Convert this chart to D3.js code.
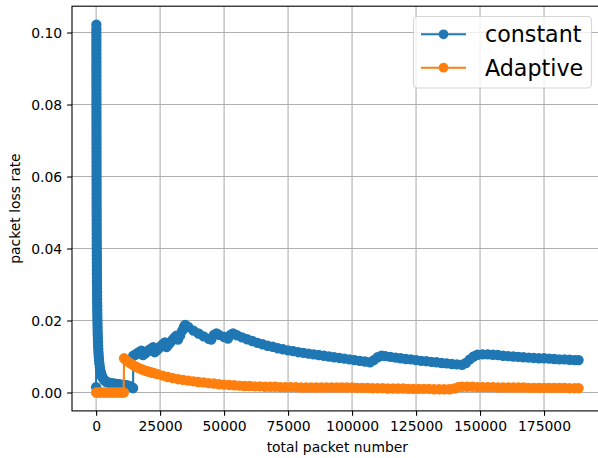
<!DOCTYPE html>
<html>
<head>
<meta charset="utf-8">
<script src="https://cdn.jsdelivr.net/npm/d3@7"></script>
<style>
  body { margin: 0; background: #fff; }
  text { font-family: "DejaVu Sans", sans-serif; fill: #000; }
</style>
</head>
<body>
<div id="chart"></div>
<script>
// packet loss rate vs total packets

const seriesNames = ["constant", "Adaptive"];
const seriesColors = ["#1f77b4", "#ff7f0e"];

const xTicks = [0, 25000, 50000, 75000, 100000, 125000, 150000, 175000];
const yTicks = [0.00, 0.02, 0.04, 0.06, 0.08, 0.10];

// [total packets, loss rate]
const constantData = [
  [0, 0.0015],
  [100, 0.1022], [101, 0.101], [102, 0.100], [104, 0.099], [105, 0.098], [106, 0.097], [107, 0.096],
  [108, 0.095], [109, 0.094], [110, 0.093], [111, 0.092], [113, 0.091], [114, 0.090], [115, 0.089],
  [116, 0.088], [118, 0.087], [119, 0.086], [121, 0.085], [122, 0.084], [123, 0.083], [125, 0.082],
  [127, 0.081], [128, 0.080], [130, 0.079], [131, 0.078], [133, 0.077], [135, 0.076], [137, 0.075],
  [139, 0.074], [140, 0.073], [142, 0.072], [144, 0.071], [146, 0.070], [149, 0.069], [151, 0.068],
  [153, 0.067], [155, 0.066], [158, 0.065], [160, 0.064], [163, 0.063], [165, 0.062], [168, 0.061],
  [171, 0.060], [174, 0.059], [177, 0.058], [180, 0.057], [183, 0.056], [186, 0.055], [190, 0.054],
  [193, 0.053], [197, 0.052], [201, 0.051], [205, 0.050], [209, 0.049], [214, 0.048], [218, 0.047],
  [223, 0.046], [228, 0.045], [233, 0.044], [238, 0.043], [244, 0.042], [250, 0.041], [256, 0.040],
  [263, 0.039], [270, 0.038], [277, 0.037], [285, 0.036], [293, 0.035], [301, 0.034], [311, 0.033],
  [320, 0.032], [331, 0.031], [342, 0.030], [353, 0.029], [366, 0.028], [380, 0.027], [394, 0.026],
  [410, 0.025], [427, 0.024], [446, 0.023], [466, 0.022], [488, 0.021], [513, 0.020], [539, 0.019],
  [569, 0.018], [603, 0.017], [641, 0.016], [683, 0.015], [732, 0.014], [788, 0.013], [854, 0.012],
  [932, 0.011], [1025, 0.010], [1139, 0.009], [1281, 0.008], [1464, 0.007], [1708, 0.006],
  [1900, 0.0054], [2100, 0.0049], [2350, 0.0044], [2650, 0.0040], [3000, 0.0036], [3400, 0.0033],
  [3900, 0.0030], [4500, 0.0028], [5200, 0.0027], [6000, 0.0026], [7000, 0.0025], [8000, 0.0024],
  [9000, 0.0023], [10000, 0.0022], [11000, 0.0021], [12000, 0.0020], [13000, 0.0018], [14000, 0.0015],
  [14450, 0.0012],
  [14500, 0.0102], [15300, 0.0105], [16100, 0.0109], [16900, 0.0113], [17700, 0.0116], [18300, 0.0104],
  [19100, 0.0108], [19900, 0.0113], [20700, 0.0118], [21500, 0.0122], [22300, 0.0126], [22900, 0.0112],
  [23700, 0.0117], [24500, 0.0123], [25300, 0.0129], [26100, 0.0134], [26900, 0.0139], [27500, 0.0126],
  [28300, 0.0133], [29100, 0.0140], [29900, 0.0147], [30700, 0.0153], [31400, 0.0158], [32000, 0.0147],
  [32800, 0.0158], [33600, 0.0171], [34300, 0.0182], [34800, 0.0188],
  [36000, 0.0182], [38000, 0.0172], [40000, 0.0164], [42000, 0.0156], [44000, 0.0149], [45000, 0.0147],
  [46000, 0.0160], [47000, 0.0164], [48000, 0.0160], [50000, 0.0154], [51500, 0.0150], [52500, 0.0160],
  [53500, 0.0164], [55000, 0.0159], [57000, 0.0153], [59000, 0.0148], [61000, 0.0143], [63000, 0.0138],
  [65000, 0.0134], [67000, 0.0130], [69000, 0.0127], [71000, 0.0123], [73000, 0.0120], [75000, 0.0117],
  [77000, 0.0115], [79000, 0.0112], [81000, 0.0110], [83000, 0.0108], [85000, 0.0106], [87000, 0.0104],
  [89000, 0.0102], [91000, 0.0100], [93000, 0.0098], [95000, 0.0096], [97000, 0.0094], [99000, 0.0092],
  [101000, 0.0090], [103000, 0.0088], [105000, 0.0086], [107000, 0.0084], [108500, 0.0090],
  [110000, 0.0098], [111500, 0.0102], [113000, 0.0101], [115000, 0.0099], [117000, 0.0097],
  [119000, 0.0095], [121000, 0.0093], [123000, 0.0092], [125000, 0.0090], [127000, 0.0088],
  [129000, 0.0087], [131000, 0.0085], [133000, 0.0084], [135000, 0.0082], [137000, 0.0081],
  [139000, 0.0079], [141000, 0.0078], [143000, 0.0077], [144500, 0.0082], [146000, 0.0092],
  [147500, 0.0100], [149000, 0.0105], [151000, 0.0106], [153000, 0.0106], [155000, 0.0105],
  [157000, 0.0104], [159000, 0.0102], [161000, 0.0101], [163000, 0.0100], [165000, 0.0099],
  [167000, 0.0098], [169000, 0.0097], [171000, 0.0096], [173000, 0.0095], [175000, 0.0095],
  [177000, 0.0094], [179000, 0.0093], [181000, 0.0092], [183000, 0.0092], [185000, 0.0091],
  [187000, 0.0090], [188500, 0.0090]
];

const adaptiveData = [
  [0, 0], [1000, 0], [2000, 0], [3000, 0], [4000, 0], [5000, 0], [6000, 0], [7000, 0],
  [8000, 0], [9000, 0], [10000, 0], [10800, 0],
  [10900, 0.0095], [11500, 0.0091], [12000, 0.0088], [13000, 0.0083], [14000, 0.0078], [15000, 0.0074],
  [16000, 0.0070], [17000, 0.0067], [18000, 0.0064], [19000, 0.0061], [20000, 0.0059], [21000, 0.0057],
  [22000, 0.0055], [23000, 0.0053], [24000, 0.0051], [26000, 0.0047], [28000, 0.0043], [30000, 0.0040],
  [32000, 0.0037], [34000, 0.0035], [36000, 0.0033], [38000, 0.0031], [40000, 0.0029], [42000, 0.0028],
  [44000, 0.0026], [46000, 0.0025], [48000, 0.0023], [50000, 0.0022], [52000, 0.0021], [54000, 0.0020],
  [56000, 0.0019], [58000, 0.0018], [60000, 0.0018], [62000, 0.0017], [64000, 0.0017], [66000, 0.0016],
  [68000, 0.0016], [70000, 0.0016], [72000, 0.0015], [74000, 0.0015], [76000, 0.0015], [78000, 0.0015],
  [80000, 0.0014], [82000, 0.0014], [84000, 0.0014], [86000, 0.0014], [88000, 0.0014], [90000, 0.0014],
  [92000, 0.0014], [94000, 0.0014], [96000, 0.0014], [98000, 0.0014], [100000, 0.0014],
  [102000, 0.0013], [104000, 0.0013], [106000, 0.0013], [108000, 0.0012], [110000, 0.0012],
  [112000, 0.0012], [114000, 0.0011], [116000, 0.0011], [118000, 0.0011], [120000, 0.0011],
  [122000, 0.0010], [124000, 0.0010], [126000, 0.0010], [128000, 0.0010], [130000, 0.0010],
  [132000, 0.0009], [134000, 0.0009], [136000, 0.0009], [138000, 0.0009], [140000, 0.0011],
  [141500, 0.0015], [143000, 0.0016], [145000, 0.0016], [147000, 0.0016], [149000, 0.0015],
  [151000, 0.0015], [153000, 0.0015], [155000, 0.0015], [157000, 0.0014], [159000, 0.0014],
  [161000, 0.0014], [163000, 0.0014], [165000, 0.0014], [167000, 0.0014], [169000, 0.0013],
  [171000, 0.0013], [173000, 0.0013], [175000, 0.0013], [177000, 0.0013], [179000, 0.0013],
  [181000, 0.0013], [183000, 0.0013], [185000, 0.0012], [187000, 0.0012], [188500, 0.0012]
];

const width = 598, height = 458;
// axes box (right spine falls just outside the saved image)
const plot = { left: 72, right: 602.7, top: 6.2, bottom: 410.9 };
const markerR = 4.5;

const svg = d3.select("#chart").append("svg")
  .attr("width", width)
  .attr("height", height);

const allData = constantData.concat(adaptiveData);
const xExt = d3.extent(allData, d => d[0]);
const yExt = d3.extent(allData, d => d[1]);
const xPad = (xExt[1] - xExt[0]) * 0.05;
const yPad = (yExt[1] - yExt[0]) * 0.05;

const x = d3.scaleLinear()
  .domain([xExt[0] - xPad, xExt[1] + xPad])
  .range([plot.left, plot.right]);
const y = d3.scaleLinear()
  .domain([yExt[0] - yPad, yExt[1] + yPad])
  .range([plot.bottom, plot.top]);

svg.append("defs").append("clipPath").attr("id", "clip")
  .append("rect")
  .attr("x", plot.left).attr("y", plot.top)
  .attr("width", plot.right - plot.left).attr("height", plot.bottom - plot.top);

// grid
const grid = svg.append("g").attr("stroke", "#b0b0b0").attr("stroke-width", 1.1);
grid.selectAll(".gx").data(xTicks).enter().append("line")
  .attr("x1", d => x(d)).attr("x2", d => x(d))
  .attr("y1", plot.top).attr("y2", plot.bottom);
grid.selectAll(".gy").data(yTicks).enter().append("line")
  .attr("x1", plot.left).attr("x2", plot.right)
  .attr("y1", d => y(d)).attr("y2", d => y(d));

// series
const line = d3.line().x(d => x(d[0])).y(d => y(d[1]));
const dataG = svg.append("g").attr("clip-path", "url(#clip)");
[constantData, adaptiveData].forEach((data, i) => {
  const g = dataG.append("g");
  g.append("path")
    .datum(data)
    .attr("d", line)
    .attr("fill", "none")
    .attr("stroke", seriesColors[i])
    .attr("stroke-width", 2.08)
    .attr("stroke-linejoin", "round");
  g.selectAll("circle").data(data).enter().append("circle")
    .attr("cx", d => x(d[0]))
    .attr("cy", d => y(d[1]))
    .attr("r", markerR)
    .attr("fill", seriesColors[i])
    .attr("stroke", seriesColors[i])
    .attr("stroke-width", 1.39);
});

// axes
const xAxis = d3.axisBottom(x).tickValues(xTicks).tickFormat(d3.format("d"))
  .tickSize(4.9).tickPadding(4.9);
const yAxis = d3.axisLeft(y).tickValues(yTicks).tickFormat(d3.format(".2f"))
  .tickSize(4.9).tickPadding(4.9);

const xg = svg.append("g").attr("transform", `translate(0,${plot.bottom})`).call(xAxis);
const yg = svg.append("g").attr("transform", `translate(${plot.left},0)`).call(yAxis);
[xg, yg].forEach(g => {
  g.select(".domain").remove();
  g.selectAll(".tick line").attr("stroke", "#000").attr("stroke-width", 1.1);
  g.selectAll(".tick text")
    .style("font-family", "'DejaVu Sans', sans-serif")
    .style("font-size", "13.9px")
    .attr("fill", "#000");
});
xg.selectAll(".tick text").attr("dy", null).attr("y", 20.6);
yg.selectAll(".tick text").attr("dy", "0.36em");

// spines
svg.append("rect")
  .attr("x", plot.left).attr("y", plot.top)
  .attr("width", plot.right - plot.left).attr("height", plot.bottom - plot.top)
  .attr("fill", "none").attr("stroke", "#000").attr("stroke-width", 1.1);

// axis labels
svg.append("text")
  .attr("x", (plot.left + plot.right) / 2)
  .attr("y", 452)
  .attr("text-anchor", "middle")
  .style("font-size", "13.9px")
  .text("total packet number");
svg.append("text")
  .attr("transform", `translate(20,${(plot.top + plot.bottom) / 2}) rotate(-90)`)
  .attr("text-anchor", "middle")
  .style("font-size", "13.9px")
  .text("packet loss rate");

// legend
const legend = svg.append("g");
legend.append("rect")
  .attr("x", 413.5).attr("y", 16.5)
  .attr("width", 178).attr("height", 71.5)
  .attr("rx", 4).attr("ry", 4)
  .attr("fill", "#fff").attr("fill-opacity", 0.8)
  .attr("stroke", "#cccccc").attr("stroke-opacity", 0.8).attr("stroke-width", 1.1);

seriesNames.forEach((name, i) => {
  const cy = 34.3 + i * 33.4;
  legend.append("line")
    .attr("x1", 421).attr("x2", 466)
    .attr("y1", cy).attr("y2", cy)
    .attr("stroke", seriesColors[i]).attr("stroke-width", 2.08);
  legend.append("circle")
    .attr("cx", 443.5).attr("cy", cy).attr("r", 4.17)
    .attr("fill", seriesColors[i])
    .attr("stroke", seriesColors[i]).attr("stroke-width", 1.39);
  legend.append("text")
    .attr("x", 485).attr("y", cy + 8)
    .style("font-size", "22.2px")
    .text(name);
});
</script>
</body>
</html>
